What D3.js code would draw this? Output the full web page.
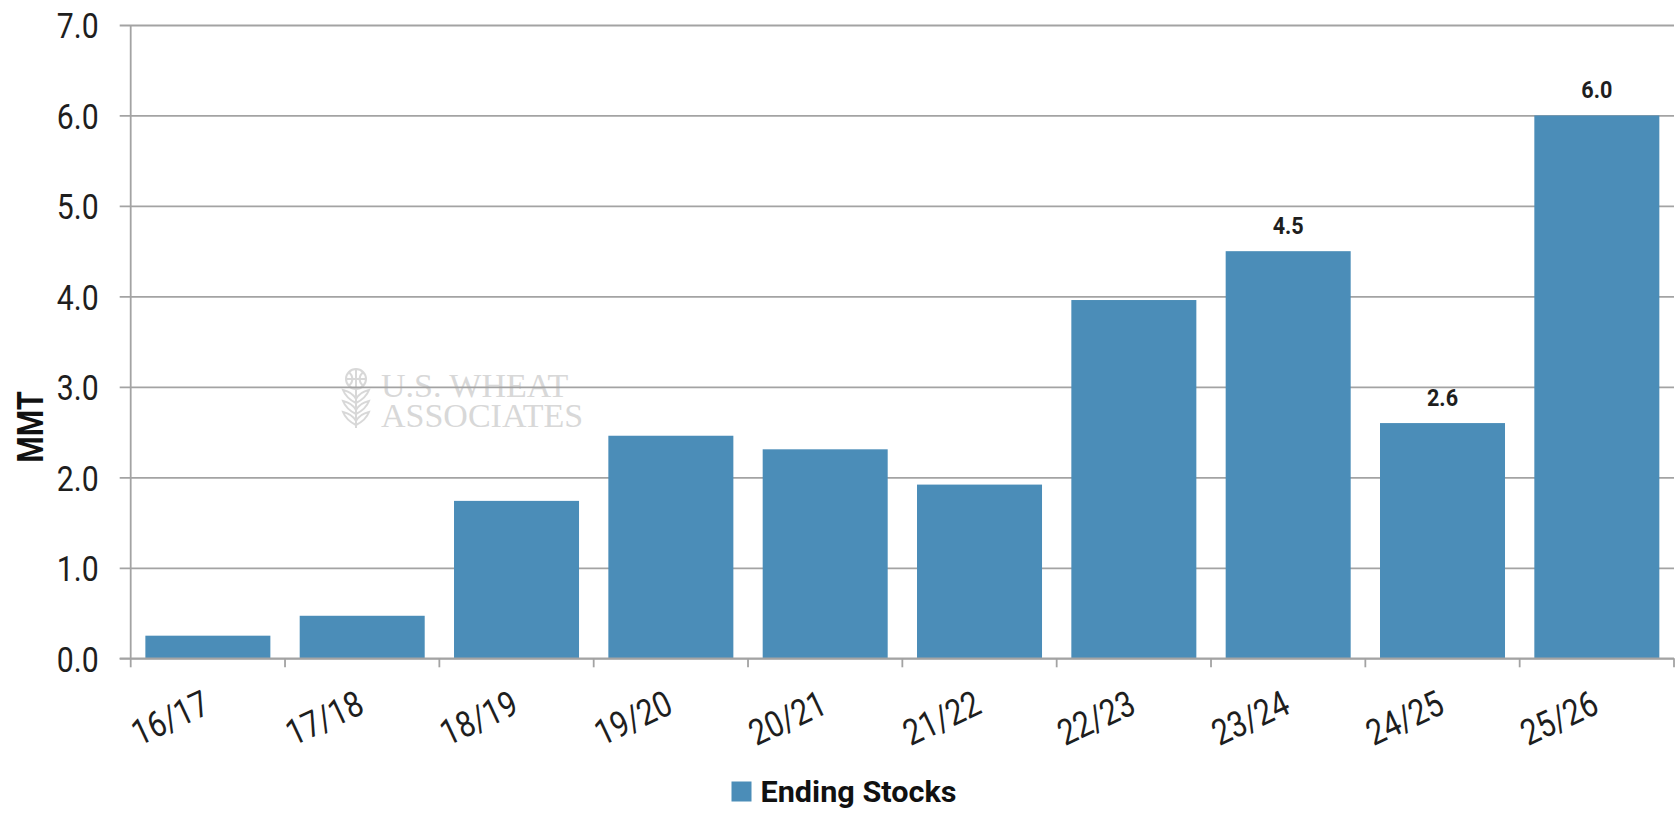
<!DOCTYPE html>
<html>
<head>
<meta charset="utf-8">
<script src="https://cdn.jsdelivr.net/npm/d3@7"></script>
<style>
  html, body { margin: 0; padding: 0; background: #fff; }
  svg { display: block; }
  text { font-family: Roboto, "Noto Sans", sans-serif; fill: #1e1e1e; }
</style>
</head>
<body>
<svg id="chart" width="1679" height="817"></svg>
<script>
// Marketing-year ending stocks, million metric tons
const categories = ["16/17", "17/18", "18/19", "19/20", "20/21", "21/22", "22/23", "23/24", "24/25", "25/26"];
const endingStocks = [0.25, 0.47, 1.74, 2.46, 2.31, 1.92, 3.96, 4.5, 2.6, 6.0];
const labeledCategories = ["23/24", "24/25", "25/26"];
const yTickValues = [0, 1, 2, 3, 4, 5, 6, 7];
const yAxisTitle = "MMT";
const seriesName = "Ending Stocks";
const watermarkLines = ["U.S. WHEAT", "ASSOCIATES"];

const barColor = "#4b8db8";
const gridColor = "#a3a3a3";

const svg = d3.select("#chart");
const plot = { left: 130.7, right: 1674, top: 25, bottom: 658.3 };

const x = d3.scaleBand()
  .domain(categories)
  .range([plot.left, plot.right])
  .paddingInner(0.19)
  .paddingOuter(0.095);

const y = d3.scaleLinear()
  .domain([0, 7])
  .range([plot.bottom, plot.top]);

// Faint logo watermark behind the plot
const wm = svg.append("g").attr("class", "watermark").attr("opacity", 0.55);
wm.append("text")
  .style("font-family", "'Liberation Serif', 'DejaVu Serif', serif")
  .style("font-size", "34px")
  .style("fill", "#b9b9b9")
  .selectAll("tspan")
  .data(watermarkLines)
  .join("tspan")
  .attr("x", 381)
  .attr("y", (d, i) => 397 + i * 30)
  .text(d => d);
const logo = wm.append("g").attr("fill", "none").attr("stroke", "#b9b9b9").attr("stroke-width", 2);
logo.append("circle").attr("cx", 356).attr("cy", 379).attr("r", 10);
logo.append("path").attr("d", "M346,379 H366 M356,369 V389 M349,372 Q356,379 349,386 M363,372 Q356,379 363,386");
[394, 405, 416].forEach(cy => {
  logo.append("path").attr("d", `M356,${cy + 9} Q346,${cy + 4} 343,${cy - 4} Q352,${cy - 2} 356,${cy + 5} Q360,${cy - 2} 369,${cy - 4} Q366,${cy + 4} 356,${cy + 9}`);
});
logo.append("path").attr("d", "M356,390 V428");

// Horizontal gridlines with their left-hand tick stubs and labels
const yAxis = svg.append("g")
  .attr("transform", `translate(${plot.left - 11},0)`)
  .call(d3.axisLeft(y)
    .tickValues(yTickValues)
    .tickSize(-(plot.right - plot.left + 11))
    .tickFormat(d3.format(".1f")));
yAxis.select(".domain").remove();
yAxis.selectAll(".tick line").attr("stroke", gridColor).attr("stroke-width", 1.8);
yAxis.selectAll(".tick text")
  .attr("x", 0)
  .attr("dy", "0.36em")
  .attr("text-anchor", "end")
  .attr("transform", "translate(-21,0) scale(0.84,1)")
  .style("font-size", "36px");

// Bars
svg.append("g").selectAll("rect")
  .data(categories.map((c, i) => ({ c, v: endingStocks[i] })))
  .join("rect")
  .attr("x", d => x(d.c))
  .attr("width", x.bandwidth())
  .attr("y", d => y(d.v))
  .attr("height", d => y(0) - y(d.v))
  .attr("fill", barColor);

// Vertical axis line
svg.append("line")
  .attr("x1", plot.left).attr("x2", plot.left)
  .attr("y1", plot.top).attr("y2", plot.bottom)
  .attr("stroke", gridColor).attr("stroke-width", 1.8);

// Category axis: baseline, boundary ticks and slanted labels
const xAxis = svg.append("g")
  .attr("transform", `translate(0,${plot.bottom})`)
  .call(d3.axisBottom(x).tickSize(0));
xAxis.select(".domain")
  .attr("d", `M${plot.left - 11},0H${plot.right}`)
  .attr("stroke", gridColor).attr("stroke-width", 1.8);
xAxis.selectAll(".tick text")
  .attr("x", 0).attr("y", 0).attr("dy", 0)
  .attr("text-anchor", "end")
  .attr("transform", "translate(4,54) rotate(-25) scale(0.84,1)")
  .style("font-size", "36px");

const boundaries = d3.range(categories.length + 1).map(i => plot.left + i * x.step());
xAxis.selectAll("line.boundary")
  .data(boundaries)
  .join("line")
  .attr("class", "boundary")
  .attr("x1", d => d).attr("x2", d => d)
  .attr("y1", 0).attr("y2", 9)
  .attr("stroke", gridColor).attr("stroke-width", 1.8);

// Value labels on the most recent years
svg.append("g").selectAll("text")
  .data(categories.map((c, i) => ({ c, v: endingStocks[i] })).filter(d => labeledCategories.includes(d.c)))
  .join("text")
  .attr("text-anchor", "middle")
  .attr("transform", d => `translate(${x(d.c) + x.bandwidth() / 2},${y(d.v) - 17}) scale(0.9,1)`)
  .style("font-size", "24px")
  .style("font-weight", "700")
  .text(d => d3.format(".1f")(d.v));

// Axis title
svg.append("text")
  .attr("transform", "translate(43,427) rotate(-90) scale(0.82,1)")
  .attr("text-anchor", "middle")
  .style("font-size", "37px")
  .style("font-weight", "700")
  .style("fill", "#111")
  .text(yAxisTitle);

// Legend
const legend = svg.append("g").attr("transform", "translate(731.5,781.5)");
legend.append("rect").attr("width", 20).attr("height", 20).attr("fill", barColor);
legend.append("text")
  .attr("transform", "translate(29,20) scale(1.02,1)")
  .style("font-size", "30px")
  .style("font-weight", "700")
  .style("fill", "#111")
  .text(seriesName);
</script>
</body>
</html>
